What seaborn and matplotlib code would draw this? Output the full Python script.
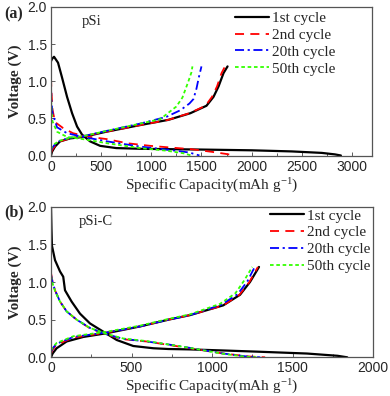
import numpy as np
import pandas as pd
import matplotlib
matplotlib.use("Agg")
import matplotlib.pyplot as plt
import seaborn as sns
from matplotlib.lines import Line2D
from matplotlib.ticker import MultipleLocator

# ---------------- data ----------------
cycles = ["1st cycle", "2nd cycle", "20th cycle", "50th cycle"]

# Panel (a) pSi
a1_dis_cap = [0, 10, 30, 70, 110, 160, 210, 260, 310, 390, 490, 650, 900, 1200, 1500, 2000, 2400, 2700, 2830, 2890]
a1_dis_v = [1.27, 1.30, 1.33, 1.25, 1.05, 0.79, 0.57, 0.39, 0.28, 0.19, 0.13, 0.10, 0.09, 0.085, 0.08, 0.07, 0.055, 0.035, 0.015, 0.0]
a1_chg_cap = [0, 10, 40, 90, 190, 320, 550, 890, 1170, 1390, 1550, 1620, 1670, 1720, 1760]
a1_chg_v = [0.0, 0.05, 0.12, 0.19, 0.23, 0.25, 0.32, 0.41, 0.48, 0.57, 0.67, 0.79, 0.93, 1.11, 1.20]

a2_dis_cap = [0, 5, 15, 40, 120, 220, 390, 560, 760, 990, 1170, 1400, 1600, 1750, 1830]
a2_dis_v = [1.05, 0.85, 0.62, 0.45, 0.37, 0.30, 0.25, 0.22, 0.165, 0.13, 0.11, 0.085, 0.05, 0.02, 0.0]
a2_chg_cap = [0, 10, 40, 90, 190, 320, 550, 890, 1170, 1380, 1540, 1605, 1655, 1700, 1735]
a2_chg_v = [0.03, 0.07, 0.13, 0.19, 0.23, 0.26, 0.32, 0.41, 0.48, 0.57, 0.67, 0.79, 0.93, 1.11, 1.20]

a20_dis_cap = [0, 5, 15, 60, 160, 320, 560, 890, 1150, 1380, 1480]
a20_dis_v = [0.92, 0.72, 0.57, 0.38, 0.30, 0.25, 0.19, 0.12, 0.08, 0.04, 0.0]
a20_chg_cap = [0, 10, 40, 90, 190, 320, 550, 890, 1150, 1290, 1380, 1420, 1450, 1475, 1500]
a20_chg_v = [0.06, 0.10, 0.15, 0.20, 0.24, 0.26, 0.33, 0.43, 0.52, 0.61, 0.70, 0.76, 0.90, 1.06, 1.20]

a50_dis_cap = [0, 5, 15, 60, 160, 320, 560, 890, 1150, 1320, 1400]
a50_dis_v = [0.82, 0.60, 0.46, 0.32, 0.25, 0.22, 0.165, 0.10, 0.065, 0.03, 0.0]
a50_chg_cap = [0, 10, 40, 90, 190, 320, 550, 890, 1090, 1250, 1310, 1340, 1370, 1400, 1410]
a50_chg_v = [0.08, 0.12, 0.16, 0.20, 0.24, 0.26, 0.33, 0.43, 0.49, 0.66, 0.78, 0.89, 1.00, 1.12, 1.20]

# Panel (b) pSi-C
b1_dis_cap = [0, 3, 6, 25, 56, 76, 87, 128, 180, 242, 325, 408, 511, 636, 730, 860, 1080, 1280, 1590, 1780, 1840]
b1_dis_v = [2.0, 1.70, 1.48, 1.29, 1.14, 1.07, 0.89, 0.74, 0.58, 0.45, 0.34, 0.23, 0.15, 0.12, 0.11, 0.105, 0.09, 0.075, 0.05, 0.02, 0.0]
b1_chg_cap = [0, 10, 35, 97, 200, 346, 553, 730, 863, 1070, 1174, 1236, 1292]
b1_chg_v = [0.0, 0.05, 0.12, 0.21, 0.27, 0.32, 0.41, 0.50, 0.56, 0.69, 0.83, 1.00, 1.20]

b2_dis_cap = [0, 10, 25, 56, 97, 159, 242, 346, 449, 594, 730, 863, 1070, 1236, 1330]
b2_dis_v = [1.12, 1.00, 0.89, 0.74, 0.61, 0.50, 0.385, 0.30, 0.24, 0.21, 0.165, 0.12, 0.05, 0.01, 0.0]
b2_chg_cap = [0, 10, 35, 139, 346, 553, 730, 863, 1070, 1170, 1232, 1285]
b2_chg_v = [0.05, 0.10, 0.17, 0.26, 0.33, 0.41, 0.50, 0.56, 0.69, 0.83, 1.00, 1.20]

b20_dis_cap = [0, 10, 25, 56, 97, 159, 242, 346, 449, 594, 730, 863, 1070, 1220, 1300]
b20_dis_v = [1.10, 0.99, 0.89, 0.74, 0.61, 0.50, 0.39, 0.305, 0.245, 0.21, 0.17, 0.125, 0.05, 0.01, 0.0]
b20_chg_cap = [0, 10, 35, 139, 346, 553, 730, 863, 1060, 1160, 1220, 1268]
b20_chg_v = [0.07, 0.12, 0.18, 0.27, 0.33, 0.41, 0.50, 0.56, 0.70, 0.84, 1.01, 1.21]

b50_dis_cap = [0, 10, 25, 56, 97, 159, 242, 346, 449, 594, 730, 863, 1060, 1200, 1280]
b50_dis_v = [1.08, 0.98, 0.88, 0.74, 0.61, 0.50, 0.39, 0.31, 0.25, 0.215, 0.17, 0.125, 0.05, 0.01, 0.0]
b50_chg_cap = [0, 10, 35, 139, 346, 553, 730, 863, 1050, 1145, 1200, 1250]
b50_chg_v = [0.09, 0.13, 0.19, 0.28, 0.34, 0.42, 0.51, 0.57, 0.71, 0.85, 1.02, 1.20]

x_ticks_a = [0, 500, 1000, 1500, 2000, 2500, 3000]
x_ticks_b = [0, 500, 1000, 1500, 2000]
y_ticks = [0.0, 0.5, 1.0, 1.5, 2.0]

# ---------------- styling ----------------
sns.set_theme(style="white")
plt.rcParams["font.family"] = ["Liberation Serif", "DejaVu Serif"]
plt.rcParams["mathtext.fontset"] = "custom"
plt.rcParams["mathtext.rm"] = "Liberation Serif"
plt.rcParams["mathtext.it"] = "Liberation Serif:italic"

styles = {
    "1st cycle": dict(color="black", lw=1.6, ls="-"),
    "2nd cycle": dict(color="#ff0000", lw=1.3, ls=(0, (5, 3.5))),
    "20th cycle": dict(color="#0000ff", lw=1.3, ls=(0, (5, 2, 1.2, 2))),
    "50th cycle": dict(color="#33ff00", lw=1.3, ls=(0, (2, 1.5))),
}

panel_a = {
    "1st cycle": [(a1_dis_cap, a1_dis_v), (a1_chg_cap, a1_chg_v)],
    "2nd cycle": [(a2_dis_cap, a2_dis_v), (a2_chg_cap, a2_chg_v)],
    "20th cycle": [(a20_dis_cap, a20_dis_v), (a20_chg_cap, a20_chg_v)],
    "50th cycle": [(a50_dis_cap, a50_dis_v), (a50_chg_cap, a50_chg_v)],
}
panel_b = {
    "1st cycle": [(b1_dis_cap, b1_dis_v), (b1_chg_cap, b1_chg_v)],
    "2nd cycle": [(b2_dis_cap, b2_dis_v), (b2_chg_cap, b2_chg_v)],
    "20th cycle": [(b20_dis_cap, b20_dis_v), (b20_chg_cap, b20_chg_v)],
    "50th cycle": [(b50_dis_cap, b50_dis_v), (b50_chg_cap, b50_chg_v)],
}

fig = plt.figure(figsize=(3.9, 3.96), dpi=100)
ax_a = fig.add_axes([51 / 390, 1 - 155.5 / 396, 321 / 390, 148.5 / 396])
ax_b = fig.add_axes([51 / 390, 1 - 357.3 / 396, 322 / 390, 150.6 / 396])

tick_font = dict(family=["Liberation Sans", "DejaVu Sans"], size=10)


def draw(ax, data, xmax, xticks, name, name_x, legend_anchor):
    for cyc in cycles:
        st = styles[cyc]
        for cap, v in data[cyc]:
            df = pd.DataFrame({"cap": cap, "v": v})
            sns.lineplot(data=df, x="cap", y="v", ax=ax, sort=False, estimator=None,
                         color=st["color"], linewidth=st["lw"], linestyle=st["ls"],
                         legend=False)
    ax.set_xlim(0, xmax)
    ax.set_ylim(0, 2.0)
    ax.set_xticks(xticks)
    ax.set_yticks(y_ticks)
    ax.xaxis.set_minor_locator(MultipleLocator(250))
    ax.set_xticklabels([str(t) for t in xticks], **tick_font)
    ax.set_yticklabels([f"{t:.1f}" for t in y_ticks], **tick_font)
    ax.tick_params(axis="both", which="both", direction="in", bottom=True, left=True,
                   top=False, right=False, pad=3)
    ax.tick_params(which="major", length=3, width=0.6, color="#444444")
    ax.tick_params(which="minor", length=2, width=0.6, color="#444444")
    for s in ax.spines.values():
        s.set_color("#555555")
        s.set_linewidth(0.9)
    ax.set_xlabel("Specific Capacity(mAh g$^{\\mathregular{-1}}$)", fontsize=11, labelpad=2)
    ax.set_ylabel("Voltage (V)", fontsize=11, fontweight="bold", labelpad=4)
    handles = [Line2D([], [], color=styles[c]["color"], lw=styles[c]["lw"],
                      ls=styles[c]["ls"]) for c in cycles]
    ax.legend(handles, cycles, loc="upper right", bbox_to_anchor=legend_anchor,
              frameon=False, fontsize=11, handlelength=2.2, handletextpad=0.2,
              labelspacing=0.2, borderaxespad=0.0, borderpad=0.3)
    ax.text(name_x, 0.9, name, transform=ax.transAxes, fontsize=10.5, ha="left", va="center")


draw(ax_a, panel_a, 3200, x_ticks_a, "pSi", 0.097, (0.90, 1.0))
draw(ax_b, panel_b, 2000, x_ticks_b, "pSi-C", 0.085, (1.005, 1.015))

fig.text(14 / 390, 1 - 14 / 396, "(a)", fontsize=11.5, fontweight="bold", ha="center", va="center")
fig.text(14 / 390, 1 - 212 / 396, "(b)", fontsize=11.5, fontweight="bold", ha="center", va="center")

fig.savefig("out.png", dpi=100)
